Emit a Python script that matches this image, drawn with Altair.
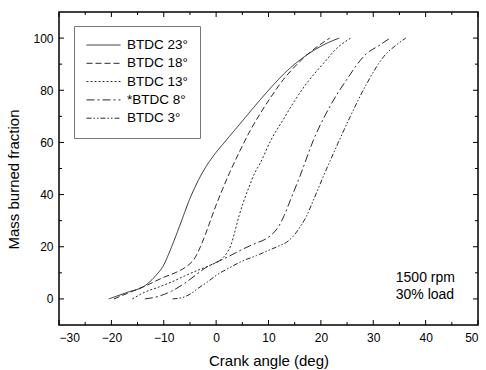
import altair as alt
import pandas as pd

series_names = ["BTDC 23°", "BTDC 18°", "BTDC 13°", "*BTDC 8°", "BTDC 3°"]

x23 = [-20.5, -17, -13.5, -11.5, -10, -9, -8, -7, -6, -5, -4, -3, -2, -1, 0, 1.5, 3, 5, 7, 9, 11, 13, 15, 17.9, 20.5, 23.5]
y23 = [0, 2.5, 5.2, 9, 13, 17.5, 22.5, 27.8, 33.2, 38.5, 43, 47, 50.5, 53.5, 56.2, 59.8, 63.4, 68.2, 73, 77.7, 82.2, 86.4, 90, 94.3, 97.4, 100]

x18 = [-19.5, -16.5, -13.5, -10, -7.5, -5.9, -4, -3, -2, -1, 0, 1, 2.6, 4.6, 6.5, 8.4, 10.5, 12.8, 15, 17.3, 19.5, 21.7]
y18 = [0, 2.5, 5, 8.3, 10.3, 12.1, 15.9, 20, 25, 30.5, 36, 41, 48.5, 57, 64.5, 71, 77.5, 84, 89, 93.5, 97, 100]

x13 = [-16, -13.6, -11, -8.5, -6, -3.5, -1, 1, 2, 2.8, 3.6, 4.4, 5.2, 6.3, 7.3, 8.4, 10.5, 12.8, 15, 17.3, 20.5, 23, 25.7]
y13 = [0, 2.6, 4.5, 6.5, 8.8, 11, 13, 15.2, 17.5, 20.5, 26, 32, 37, 43, 48, 52, 61, 68.7, 76, 82.7, 90.3, 96, 100]

x8 = [-13.6, -11, -8.5, -6, -4, -2, 0, 2.6, 5, 7.5, 9.5, 10.8, 12, 13, 14.2, 16, 18.6, 21.7, 24.9, 28.8, 31, 33.2]
y8 = [0, 1, 3, 6, 9, 12, 14, 16.5, 19, 21.3, 23, 25, 28, 32, 38, 47, 61, 73.7, 84, 94.2, 97, 100]

x3 = [-8.3, -6.5, -5, -3.5, -2, 0, 2.6, 5, 7.7, 10, 12, 13.5, 14.7, 16, 17.2, 18.5, 20.2, 23, 25.6, 28.8, 32, 34.5, 36.2]
y3 = [0, 0.5, 1.8, 4, 6, 9, 12, 14.5, 16.6, 18.6, 20.3, 21.8, 24, 27.5, 31.5, 37.5, 45.7, 58.5, 69.9, 82.7, 92.9, 97.5, 100]

x_major = [-30, -20, -10, 0, 10, 20, 30, 40, 50]
x_minor = [-25, -15, -5, 5, 15, 25, 35, 45]
y_major = [0, 20, 40, 60, 80, 100]
y_minor = [10, 30, 50, 70, 90]

note_x = [34.3, 34.3]
note_y = [8.0, 1.4]
note_text = ["1500 rpm", "30% load"]

rows = []
for name, xs, ys in zip(series_names, [x23, x18, x13, x8, x3], [y23, y18, y13, y8, y3]):
    for i, (a, b) in enumerate(zip(xs, ys)):
        rows.append({"series": name, "x": a, "y": b, "order": i})
df = pd.DataFrame(rows)

W, H = 419, 313
FONT = "Liberation Sans"

xscale = alt.Scale(domain=[-30, 50], nice=False, zero=False)
yscale = alt.Scale(domain=[-10, 110], nice=False, zero=False)

lines = alt.Chart(df).mark_line(strokeWidth=1, color="#2a2a2a", interpolate="monotone").encode(
    x=alt.X("x:Q", scale=xscale,
            axis=alt.Axis(values=x_major, ticks=False, domain=False, grid=False,
                          labelFontSize=12, labelPadding=7, labelColor="#000",
                          title="Crank angle (deg)", titleFontSize=15, titleFontWeight="normal",
                          titlePadding=10, titleColor="#000")),
    y=alt.Y("y:Q", scale=yscale,
            axis=alt.Axis(values=y_major, ticks=False, domain=False, grid=False,
                          labelFontSize=12, labelPadding=6, labelColor="#000",
                          title="Mass burned fraction", titleFontSize=15, titleFontWeight="normal",
                          titlePadding=11, titleColor="#000", titleY=167)),
    strokeDash=alt.StrokeDash("series:N", sort=series_names,
                              scale=alt.Scale(domain=series_names,
                                              range=[[1, 0], [6, 3], [2, 2], [8, 3, 2, 3], [5, 2, 1.5, 2, 1.5, 2]]),
                              legend=alt.Legend(orient="none", legendX=15, legendY=14, title=None,
                                                symbolType="stroke", symbolSize=1156,
                                                symbolStrokeWidth=1, symbolStrokeColor="#2a2a2a",
                                                labelFontSize=13.5, labelFont=FONT, labelColor="#000",
                                                labelOffset=6, rowPadding=4.3, padding=12, clipHeight=14,
                                                strokeColor="#777", fillColor="#ffffff")),
    order="order:Q",
)

def tick_layer(vals, channel, length, side):
    d = pd.DataFrame({"v": vals})
    base = alt.Chart(d).mark_rule(color="#000", strokeWidth=1)
    if channel == "x":
        enc = dict(x=alt.X("v:Q", scale=xscale))
        if side == "bottom":
            enc.update(y=alt.value(H), y2=alt.value(H - length))
        else:
            enc.update(y=alt.value(0), y2=alt.value(length))
    else:
        enc = dict(y=alt.Y("v:Q", scale=yscale))
        if side == "left":
            enc.update(x=alt.value(0), x2=alt.value(length))
        else:
            enc.update(x=alt.value(W), x2=alt.value(W - length))
    return base.encode(**enc)

ticks = []
for side in ["bottom", "top"]:
    ticks.append(tick_layer(x_major, "x", 5, side))
    ticks.append(tick_layer(x_minor, "x", 3, side))
for side in ["left", "right"]:
    ticks.append(tick_layer(y_major, "y", 5, side))
    ticks.append(tick_layer(y_minor, "y", 3, side))

notes = alt.Chart(pd.DataFrame({"x": note_x, "y": note_y, "t": note_text})).mark_text(
    align="left", baseline="middle", fontSize=14, font=FONT, color="#000"
).encode(x=alt.X("x:Q", scale=xscale), y=alt.Y("y:Q", scale=yscale), text="t:N")

chart = alt.layer(lines, notes, *ticks).properties(
    width=W, height=H,
    autosize=alt.AutoSizeParams(type="none"),
    padding={"left": 59, "top": 12, "right": 8, "bottom": 50},
).configure(font=FONT).configure_view(stroke="#000", strokeWidth=1.5).configure_axis(
    labelFont=FONT, titleFont=FONT
)

chart.save("out.html", embed_options={"renderer": "svg", "actions": False})
